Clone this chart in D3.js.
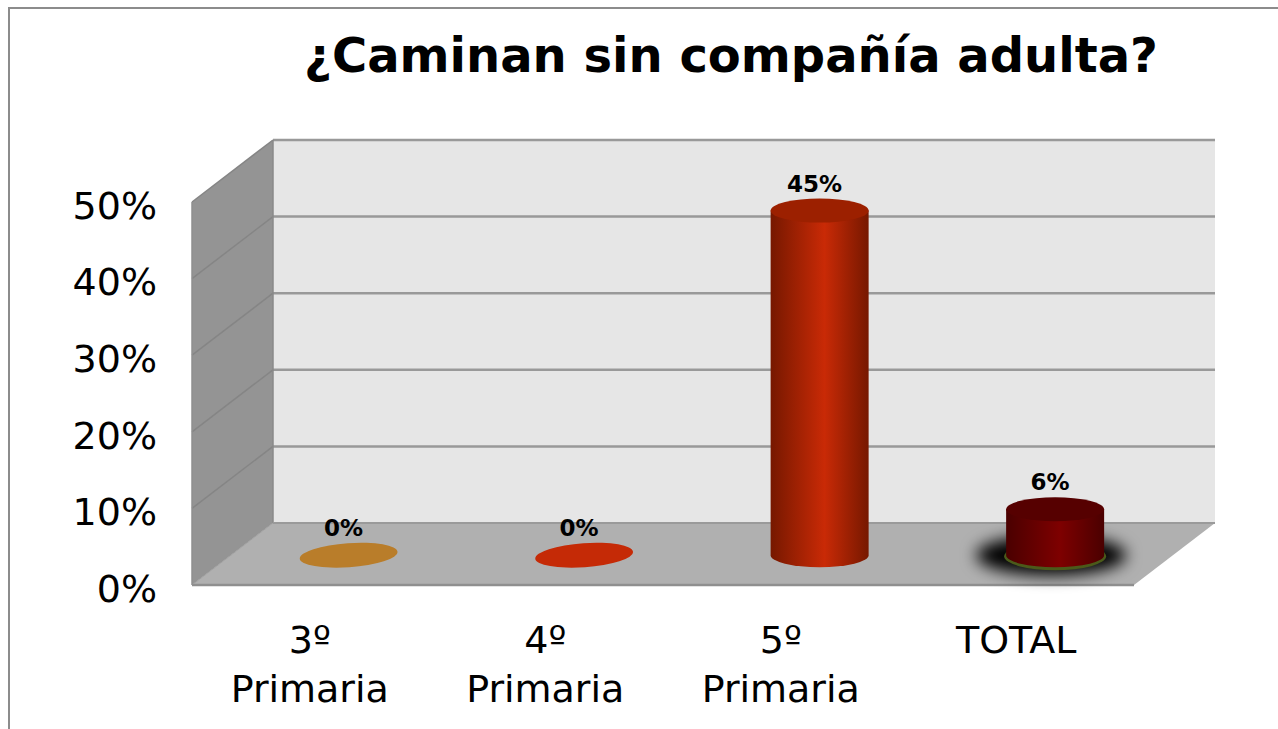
<!DOCTYPE html>
<html>
<head>
<meta charset="utf-8">
<script src="https://cdn.jsdelivr.net/npm/d3@7"></script>
<style>
  body { margin: 0; background: #fff; }
  svg { display: block; font-family: "DejaVu Sans", sans-serif; }
</style>
</head>
<body>
<svg id="chart" width="1278" height="729"></svg>
<script>
const categories = ["3º Primaria", "4º Primaria", "5º Primaria", "TOTAL"];
const categoryLines = [["3º", "Primaria"], ["4º", "Primaria"], ["5º", "Primaria"], ["TOTAL"]];
const values = [0, 0, 45, 6];
const yTicks = [0, 10, 20, 30, 40, 50];
const title = "¿Caminan sin compañía adulta?";

// colours per bar: [side dark, side light, top]
const barColors = [
  ["#8a5a1c", "#bd802c", "#b97d2a"],
  ["#7a1a02", "#c82a08", "#c52a06"],
  ["#761800", "#c92a06", "#9c2000"],
  ["#4a0000", "#7e0000", "#560000"]
];

const svg = d3.select("#chart");
const defs = svg.append("defs");

// back plane geometry and depth offset
const x = d3.scaleBand().domain(categories).range([273, 1215]);
const y = d3.scaleLinear().domain([0, 50]).range([523, 140]);
const depth = { dx: -81, dy: 62 };
const rx = 49, ry = 12;

// frame
svg.append("rect")
  .attr("x", 9).attr("y", 8).attr("width", 1300).attr("height", 760)
  .attr("fill", "none").attr("stroke", "#8c8c8c").attr("stroke-width", 2);

// title
svg.append("text")
  .attr("x", 731).attr("y", 72)
  .attr("text-anchor", "middle")
  .attr("font-size", 48).attr("font-weight", "bold")
  .text(title);

const x0 = x.range()[0], x1 = x.range()[1];
const yb = y(0), yt = y(50);

// back wall
svg.append("rect")
  .attr("x", x0).attr("y", yt).attr("width", x1 - x0).attr("height", yb - yt)
  .attr("fill", "#e6e6e6");

// left wall
svg.append("polygon")
  .attr("points", [[x0, yt], [x0, yb], [x0 + depth.dx, yb + depth.dy], [x0 + depth.dx, yt + depth.dy]].join(" "))
  .attr("fill", "#949494");

// floor
svg.append("polygon")
  .attr("points", [[x0, yb], [x1, yb], [x1 + depth.dx, yb + depth.dy], [x0 + depth.dx, yb + depth.dy]].join(" "))
  .attr("fill", "#b0b0b0");

// gridlines on back wall and left wall
yTicks.filter(d => d > 0).forEach(d => {
  svg.append("line")
    .attr("x1", x0).attr("x2", x1).attr("y1", y(d)).attr("y2", y(d))
    .attr("stroke", "#999").attr("stroke-width", 2.5);
  svg.append("line")
    .attr("x1", x0).attr("x2", x0 + depth.dx).attr("y1", y(d)).attr("y2", y(d) + depth.dy)
    .attr("stroke", "#858585").attr("stroke-width", 1.5);
});
svg.append("line")
  .attr("x1", x0).attr("x2", x0).attr("y1", yt).attr("y2", yb)
  .attr("stroke", "#8a8a8a").attr("stroke-width", 1.5);
svg.append("line")
  .attr("x1", x0).attr("x2", x1).attr("y1", yb).attr("y2", yb)
  .attr("stroke", "#9a9a9a").attr("stroke-width", 2);
svg.append("line")
  .attr("x1", x0).attr("x2", x0 + depth.dx).attr("y1", yb).attr("y2", yb + depth.dy)
  .attr("stroke", "#a0a0a0").attr("stroke-width", 1);
svg.append("line")
  .attr("x1", x0 + depth.dx).attr("x2", x1 + depth.dx).attr("y1", yb + depth.dy).attr("y2", yb + depth.dy)
  .attr("stroke", "#8f8f8f").attr("stroke-width", 2.5);
svg.append("line")
  .attr("x1", x0 + depth.dx).attr("x2", x0 + depth.dx).attr("y1", yt + depth.dy).attr("y2", yb + depth.dy)
  .attr("stroke", "#8f8f8f").attr("stroke-width", 1.5);

// y axis labels on the front plane
const yAxis = d3.axisLeft(y).tickValues(yTicks).tickFormat(d => d + "%").tickSize(0).tickPadding(35);
const gy = svg.append("g")
  .attr("transform", `translate(${x0 + depth.dx},${depth.dy})`)
  .call(yAxis);
gy.select(".domain").remove();
gy.selectAll("text")
  .attr("font-family", "DejaVu Sans, sans-serif")
  .attr("font-size", 38).attr("fill", "#000").attr("dy", "0.43em");

// category labels on the front plane
const gx = svg.append("g");
categories.forEach((c, i) => {
  const t = gx.append("text")
    .attr("text-anchor", "middle")
    .attr("font-size", 38);
  categoryLines[i].forEach((line, j) => {
    t.append("tspan")
      .attr("x", x(c) + x.bandwidth() / 2 + depth.dx)
      .attr("y", 653 + j * 49)
      .text(line);
  });
});

// shadow filter for total cylinder
const blur = defs.append("filter").attr("id", "blur")
  .attr("x", "-50%").attr("y", "-50%").attr("width", "200%").attr("height", "200%");
blur.append("feGaussianBlur").attr("stdDeviation", 8);

// cylinders at mid depth
const f = 0.52;
values.forEach((v, i) => {
  const c = categories[i];
  const cx = x(c) + x.bandwidth() / 2 + depth.dx * f;
  const yBot = y(0) + depth.dy * f;
  const yTop = y(v) + depth.dy * f;
  const col = barColors[i];
  const g = svg.append("g");

  if (c === "TOTAL") {
    g.append("ellipse")
      .attr("cx", cx - 4).attr("cy", yBot).attr("rx", rx + 26).attr("ry", ry + 8)
      .attr("fill", "#000").attr("filter", "url(#blur)");
    g.append("ellipse")
      .attr("cx", cx).attr("cy", yBot + 1).attr("rx", rx + 2).attr("ry", ry + 2)
      .attr("fill", "#4b5a1a");
  }

  if (v > 0) {
    const grad = defs.append("linearGradient").attr("id", "g" + i)
      .attr("x1", "0%").attr("x2", "100%").attr("y1", "0%").attr("y2", "0%");
    grad.append("stop").attr("offset", "0%").attr("stop-color", col[0]);
    grad.append("stop").attr("offset", "55%").attr("stop-color", col[1]);
    grad.append("stop").attr("offset", "100%").attr("stop-color", col[0]);

    g.append("path")
      .attr("d", `M${cx - rx},${yTop} L${cx - rx},${yBot} A${rx},${ry} 0 0 0 ${cx + rx},${yBot} L${cx + rx},${yTop} Z`)
      .attr("fill", `url(#g${i})`);
    g.append("ellipse")
      .attr("cx", cx).attr("cy", yTop).attr("rx", rx).attr("ry", ry)
      .attr("fill", col[2]);
  } else {
    g.append("ellipse")
      .attr("cx", cx).attr("cy", yTop).attr("rx", rx).attr("ry", ry)
      .attr("fill", col[2])
      .attr("transform", `rotate(-4,${cx},${yTop})`);
  }

  svg.append("text")
    .attr("x", cx - 5).attr("y", yTop - ry - 7)
    .attr("text-anchor", "middle")
    .attr("font-size", 23).attr("font-weight", "bold")
    .text(v + "%");
});
</script>
</body>
</html>
